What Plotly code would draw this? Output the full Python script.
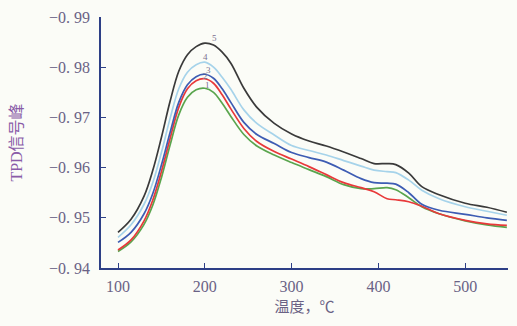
import plotly.graph_objects as go

# Temperature grid (°C)
temperature = [100, 115, 130, 140, 150, 160, 170, 180, 190, 200, 210, 220, 230, 245, 260,
               280, 300, 320, 340, 360, 380, 395, 410, 420, 435, 450, 470, 500, 525, 548]

# TPD signal for samples 1-5
sample_1 = [-0.9433, -0.9452, -0.9487, -0.9525, -0.9580, -0.9645, -0.9705, -0.9740, -0.9755, -0.9758,
            -0.9750, -0.9728, -0.9702, -0.9666, -0.9643, -0.9625, -0.9610, -0.9596, -0.9582, -0.9566,
            -0.9558, -0.9558, -0.9560, -0.9556, -0.9540, -0.9522, -0.9508, -0.9494, -0.9486, -0.9481]
sample_2 = [-0.9436, -0.9456, -0.9494, -0.9535, -0.9592, -0.9658, -0.9720, -0.9757, -0.9773, -0.9777,
            -0.9768, -0.9745, -0.9717, -0.9678, -0.9652, -0.9632, -0.9617, -0.9602, -0.9586, -0.9570,
            -0.9560, -0.9552, -0.9538, -0.9536, -0.9532, -0.9523, -0.9508, -0.9495, -0.9488, -0.9485]
sample_3 = [-0.9451, -0.9471, -0.9508, -0.9548, -0.9605, -0.9670, -0.9730, -0.9765, -0.9781, -0.9786,
            -0.9778, -0.9757, -0.9730, -0.9690, -0.9666, -0.9648, -0.9630, -0.9620, -0.9611, -0.9595,
            -0.9578, -0.9570, -0.9569, -0.9567, -0.9550, -0.9527, -0.9515, -0.9507, -0.9500, -0.9495]
sample_4 = [-0.9461, -0.9486, -0.9527, -0.9570, -0.9630, -0.9698, -0.9757, -0.9790, -0.9805, -0.9810,
            -0.9800, -0.9780, -0.9756, -0.9715, -0.9688, -0.9665, -0.9644, -0.9634, -0.9625, -0.9614,
            -0.9603, -0.9595, -0.9592, -0.9590, -0.9575, -0.9555, -0.9538, -0.9522, -0.9513, -0.9505]
sample_5 = [-0.9471, -0.9497, -0.9543, -0.9594, -0.9660, -0.9732, -0.9792, -0.9825, -0.9841, -0.9848,
            -0.9844, -0.9830, -0.9808, -0.9758, -0.9720, -0.9688, -0.9667, -0.9653, -0.9643, -0.9631,
            -0.9618, -0.9608, -0.9608, -0.9606, -0.9589, -0.9562, -0.9546, -0.9529, -0.9521, -0.9511]

series_names = ["1", "2", "3", "4", "5"]
series_values = [sample_1, sample_2, sample_3, sample_4, sample_5]
series_colors = ["#5aa54e", "#e8393a", "#3d5cb3", "#a6d3ea", "#3a3a3a"]

# Curve label positions near each peak
label_x = [203, 201, 204, 201, 211]
label_y = [-0.9764, -0.9783, -0.9795, -0.9820, -0.9858]

x_ticks = [100, 200, 300, 400, 500]
y_ticks = [-0.99, -0.98, -0.97, -0.96, -0.95, -0.94]
y_tick_text = ["−0. 99", "−0. 98", "−0. 97", "−0. 96", "−0. 95", "−0. 94"]

fig = go.Figure()
for name, vals, col in zip(series_names, series_values, series_colors):
    fig.add_trace(go.Scatter(x=temperature, y=vals, mode="lines", name=name,
                             line=dict(color=col, width=1.7), line_shape="spline"))

for name, lx, ly in zip(series_names, label_x, label_y):
    fig.add_annotation(x=lx, y=ly, text=name, showarrow=False,
                       font=dict(family="Liberation Serif", size=9, color="#7a7090"))

axis_color = "#2d3f86"
tick_font = dict(family="Liberation Serif", size=16, color="#6a6285")

fig.update_layout(
    width=517, height=326,
    margin=dict(l=101, r=9, t=15, b=58),
    paper_bgcolor="#fbfcf7", plot_bgcolor="#fbfcf7",
    showlegend=False,
    xaxis=dict(range=[80.4, 549.3], tickvals=x_ticks, ticks="inside", ticklen=5,
               tickcolor=axis_color, showline=True, linecolor=axis_color, linewidth=1.5,
               showgrid=False, zeroline=False, tickfont=tick_font, ticklabelstandoff=3,
               title=dict(text="温度，℃", standoff=5,
                          font=dict(family="Noto Sans CJK SC", size=15, color="#6a6285"))),
    yaxis=dict(range=[-0.94, -0.99], tickvals=y_ticks, ticktext=y_tick_text,
               ticks="inside", ticklen=5, tickcolor=axis_color, showline=True,
               linecolor=axis_color, linewidth=1.5, showgrid=False, zeroline=False,
               tickfont=tick_font, ticklabelstandoff=6,
               title=dict(text="TPD信号峰", standoff=22,
                          font=dict(family="Liberation Serif, Noto Sans CJK SC", size=16,
                                    color="#8a5ca8"))),
)

fig.write_html("out.html")
